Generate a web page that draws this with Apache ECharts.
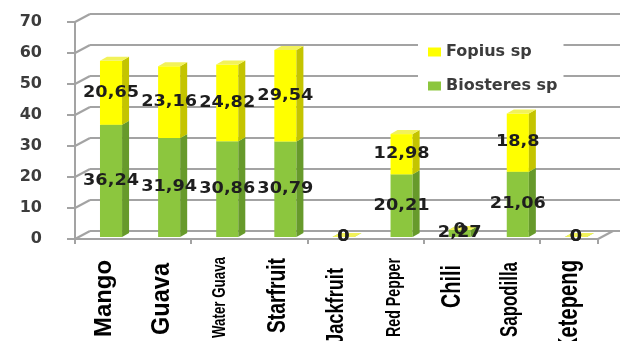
<!DOCTYPE html>
<html>
<head>
<meta charset="utf-8">
<script src="https://cdn.jsdelivr.net/npm/echarts@6/dist/echarts.min.js"></script>
<style>
  html, body { margin: 0; padding: 0; background: #ffffff; }
  #chart { width: 621px; height: 341px; }
</style>
</head>
<body>
<div id="chart"></div>
<script>
// Parasitoid counts per host fruit, stacked by species
const categories = ['Mango', 'Guava', 'Water Guava', 'Starfruit', 'Jackfruit', 'Red Pepper', 'Chili', 'Sapodilla', 'Ketepeng'];
const biosteres = [36.24, 31.94, 30.86, 30.79, 0, 20.21, 2.27, 21.06, 0];
const fopius = [20.65, 23.16, 24.82, 29.54, 0, 12.98, 0, 18.8, 0];
const seriesNames = ['Biosteres sp', 'Fopius sp'];
const yMin = 0, yMax = 70, yStep = 10;

// ---- styling ----
const GRID_COLOR = '#a3a3a3';
const DEPTH_X = 15, DEPTH_Y = -8;         // wall depth of the 3D box
const BAR_DX = 7, BAR_DY = -4;            // bar depth
const VALUE_FONT = 'bold 15px "DejaVu Sans", sans-serif';
const CAT_FAMILY = '"Liberation Sans", Arial, sans-serif';
// per-category label look: glyph size, drawn length, gap below the axis
const catFontSize = [24, 25, 18, 25, 24, 20, 28, 23, 28];
const catLength   = [77, 72, 81, 75, 76, 79, 43, 75, 92];
const catGap      = [21, 24, 18, 19, 29, 19, 26, 23, 21];
const palette = {
  green:  { front: '#8cc63e', side: '#679a2b', top: '#a9d862' },
  yellow: { front: '#ffff00', side: '#c4c400', top: '#f2f25a' }
};

function fmt(v) { return String(v).replace('.', ','); }

const measureCtx = document.createElement('canvas').getContext('2d');
function textWidth(text, font) { measureCtx.font = font; return measureCtx.measureText(text).width; }

function barRenderer(col) {
  return function (params, api) {
    const i = api.value(0), base = api.value(1), val = api.value(2);
    const pb = api.coord([i, base]);
    const pt = api.coord([i, base + val]);
    const bw = api.size([1, 0])[0];
    const w = bw * 0.38;
    const cx = pb[0] + bw * 0.12;
    const x0 = cx - w / 2, x1 = cx + w / 2;
    const yb = pb[1] - 2, yt = pt[1] - 2;
    return {
      type: 'group',
      children: [
        { type: 'rect', shape: { x: x0, y: yt, width: w, height: yb - yt }, style: { fill: col.front } },
        { type: 'polygon', shape: { points: [[x1, yt], [x1 + BAR_DX, yt + BAR_DY], [x1 + BAR_DX, yb + BAR_DY], [x1, yb]] }, style: { fill: col.side } },
        { type: 'polygon', shape: { points: [[x0, yt], [x1, yt], [x1 + BAR_DX, yt + BAR_DY], [x0 + BAR_DX, yt + BAR_DY]] }, style: { fill: col.top } },
        { type: 'text', z2: 100, x: cx, y: (yt + yb) / 2, scaleX: 1.18, style: {
            text: fmt(val), align: 'center', verticalAlign: 'middle', font: VALUE_FONT, fill: '#1e1e1e'
        } }
      ]
    };
  };
}

// vertical category names under each band
function categoryLabelRenderer(params, api) {
  const i = api.value(0);
  const p = api.coord([i, yMin]);
  const text = categories[i];
  const font = 'bold ' + catFontSize[i] + 'px ' + CAT_FAMILY;
  const natural = textWidth(text, font);
  return {
    type: 'text', x: p[0], y: p[1] + catGap[i], rotation: Math.PI / 2,
    scaleX: catLength[i] / natural,
    style: { text: text, font: font, align: 'right', verticalAlign: 'middle', fill: '#000000' }
  };
}

// left side wall diagonals at each tick level, plus the right floor edge
function wallRenderer(params, api) {
  const v = api.value(1);
  const p = api.coord([0, v]);
  const bw = api.size([1, 0])[0];
  const left = p[0] - bw / 2;
  const children = [
    { type: 'line', shape: { x1: left, y1: p[1], x2: left + DEPTH_X, y2: p[1] + DEPTH_Y }, style: { stroke: GRID_COLOR, lineWidth: 2 } }
  ];
  if (v === yMin) {
    const pr = api.coord([categories.length - 1, v]);
    const right = pr[0] + bw / 2;
    children.push({ type: 'line', shape: { x1: right, y1: pr[1], x2: right + DEPTH_X, y2: pr[1] + DEPTH_Y }, style: { stroke: GRID_COLOR, lineWidth: 2 } });
  }
  return { type: 'group', children: children };
}

const wallLevels = [];
for (let v = yMin; v <= yMax; v += yStep) wallLevels.push([0, v]);

const chart = echarts.init(document.getElementById('chart'), null, { renderer: 'canvas' });
chart.setOption({
  animation: false,
  backgroundColor: '#ffffff',
  grid: [
    { left: 75, right: 23, top: 22, bottom: 102, outerBoundsMode: 'none' },          // front plane
    { left: 90, right: 1, top: 14, bottom: 110, outerBoundsMode: 'none' }            // back wall
  ],
  xAxis: [
    {
      type: 'category', gridIndex: 0, data: categories,
      axisLine: { lineStyle: { color: GRID_COLOR, width: 2 } },
      axisTick: { show: true, length: 5, lineStyle: { color: GRID_COLOR, width: 2 } },
      axisLabel: { show: false },
      splitLine: { show: false }
    },
    { type: 'value', gridIndex: 1, min: 0, max: 1, show: false }
  ],
  yAxis: [
    {
      type: 'value', gridIndex: 0, min: yMin, max: yMax, interval: yStep,
      axisLine: { show: true, lineStyle: { color: GRID_COLOR, width: 2 } },
      axisTick: { show: true, length: 8, lineStyle: { color: GRID_COLOR, width: 2 } },
      axisLabel: { margin: 33, color: '#3c3c3c', fontSize: 16, fontWeight: 'bold', fontFamily: '"DejaVu Sans", sans-serif' },
      splitLine: { show: false }
    },
    {
      type: 'value', gridIndex: 1, min: yMin, max: yMax, interval: yStep,
      axisLine: { show: false }, axisTick: { show: false }, axisLabel: { show: false },
      splitLine: { show: true, lineStyle: { color: GRID_COLOR, width: 2 } }
    }
  ],
  legend: {
    orient: 'vertical', left: 418, top: 38,
    data: ['Fopius sp', 'Biosteres sp'],
    backgroundColor: '#ffffff',
    padding: [5, 6, 5, 10],
    icon: 'rect', itemWidth: 13, itemHeight: 9, itemGap: 16,
    textStyle: { fontFamily: '"DejaVu Sans", sans-serif', fontWeight: 'bold', fontSize: 16, color: '#3c3c3c', lineHeight: 18 }
  },
  series: [
    {
      type: 'custom', name: 'wall', xAxisIndex: 0, yAxisIndex: 0, z: 1,
      renderItem: wallRenderer, data: wallLevels, silent: true
    },
    {
      type: 'custom', name: 'categoryLabels', xAxisIndex: 0, yAxisIndex: 0, z: 1, clip: false,
      renderItem: categoryLabelRenderer, data: categories.map((c, i) => [i, yMin]), silent: true
    },
    {
      type: 'custom', name: seriesNames[0], xAxisIndex: 0, yAxisIndex: 0, z: 3,
      itemStyle: { color: palette.green.front },
      renderItem: barRenderer(palette.green),
      data: biosteres.map((v, i) => [i, 0, v])
    },
    {
      type: 'custom', name: seriesNames[1], xAxisIndex: 0, yAxisIndex: 0, z: 3,
      itemStyle: { color: palette.yellow.front },
      renderItem: barRenderer(palette.yellow),
      data: fopius.map((v, i) => [i, biosteres[i], v])
    }
  ]
});
</script>
</body>
</html>
